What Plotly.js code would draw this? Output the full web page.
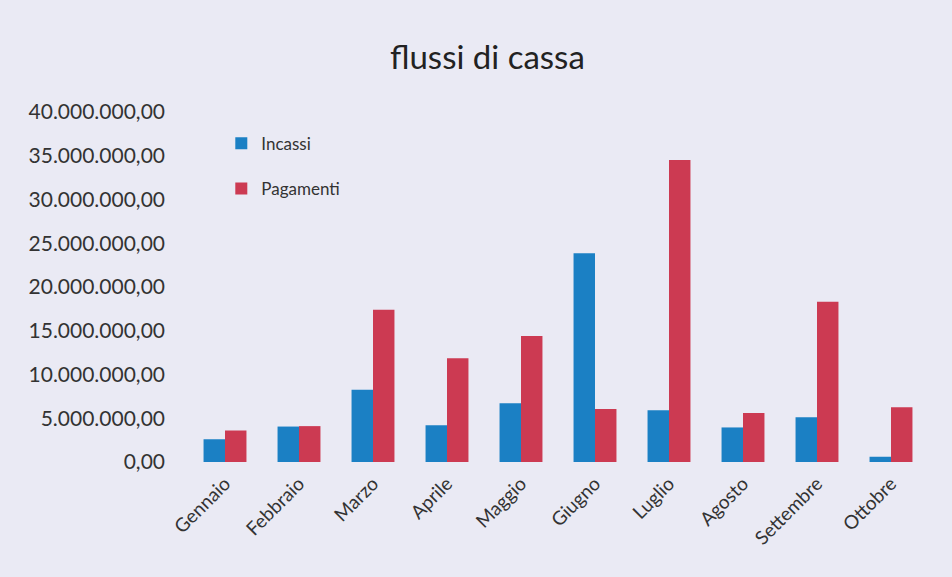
<!DOCTYPE html>
<html><head><meta charset="utf-8">
<script src="https://cdn.plot.ly/plotly-3.0.1.min.js"></script>
<style>html,body{margin:0;padding:0;background:#eaeaf4;}</style>
</head><body><div id="chart" style="width:952px;height:577px;"></div>
<script>
const mesi = ["Gennaio","Febbraio","Marzo","Aprile","Maggio","Giugno","Luglio","Agosto","Settembre","Ottobre"];
const incassi = [2600000, 4050000, 8250000, 4200000, 6700000, 23850000, 5900000, 3950000, 5100000, 600000];
const pagamenti = [3600000, 4100000, 17400000, 11850000, 14400000, 6050000, 34500000, 5600000, 18300000, 6250000];
const yTicks = [0, 5000000, 10000000, 15000000, 20000000, 25000000, 30000000, 35000000, 40000000];
const yTickText = ["0,00","5.000.000,00","10.000.000,00","15.000.000,00","20.000.000,00","25.000.000,00","30.000.000,00","35.000.000,00","40.000.000,00"];

const font = "Lato, 'Open Sans', sans-serif";
const data = [
  {type:"bar", name:"Incassi", x:mesi, y:incassi, marker:{color:"#1b80c4"}, legendgroup:"a"},
  {type:"bar", name:"Pagamenti", x:mesi, y:pagamenti, marker:{color:"#cc3a52"}, legendgroup:"b"}
];
const layout = {
  width:952, height:577,
  paper_bgcolor:"#eaeaf4", plot_bgcolor:"#eaeaf4",
  margin:{l:188, r:24, t:112, b:115},
  title:{text:"flussi di cassa", x:0.512, xanchor:"center", y:0.9, yanchor:"middle", font:{family:font, size:33, color:"#222"}},
  barmode:"group", bargap:0.42, bargroupgap:0,
  font:{family:font, color:"#333"},
  xaxis:{tickangle:-45, tickfont:{size:19, color:"#333"}, showline:false, ticks:"", showgrid:false, fixedrange:true, ticklabelstandoff:6},
  yaxis:{range:[0,40000000], tickvals:yTicks, ticktext:yTickText, tickfont:{size:21, color:"#333"}, showgrid:false, zeroline:false, showline:false, ticks:"", ticklen:0, automargin:false, ticklabelstandoff:22},
  showlegend:true,
  legend:{x:0.045, y:0.845, xanchor:"left", yanchor:"middle", bgcolor:"rgba(0,0,0,0)", font:{size:17, color:"#333"}, traceorder:"grouped", tracegroupgap:20, itemwidth:30}
};
Plotly.newPlot("chart", data, layout, {displayModeBar:false, staticPlot:true});
</script></body></html>
